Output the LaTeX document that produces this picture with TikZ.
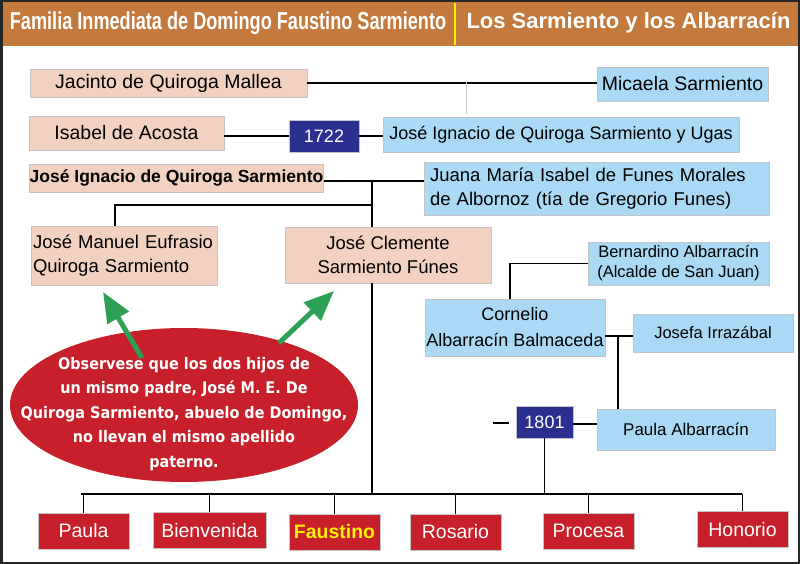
\documentclass[tikz,border=0pt]{standalone}
\usepackage{fontspec}
\setmainfont{Liberation Sans}
\newfontfamily\narrowfont[FakeStretch=0.74]{Liberation Sans}
\newfontfamily\notefont[FakeStretch=0.9]{DejaVu Sans}
\usetikzlibrary{shapes.geometric,arrows.meta}
\definecolor{cabecera}{HTML}{C47A3C}
\definecolor{durazno}{HTML}{F2D1C1}
\definecolor{celeste}{HTML}{A9D9F5}
\definecolor{azulanio}{HTML}{2B2F8F}
\definecolor{rojo}{HTML}{C8202A}
\definecolor{verde}{HTML}{2EA055}
\definecolor{borde}{HTML}{C4C4C4}
\definecolor{amarillo}{HTML}{FFF200}

\begin{document}
\begin{tikzpicture}[x=1pt, y=-1pt, line width=1.6pt,
  caja/.style={draw=borde, line width=0.8pt, inner sep=0pt, text=black},
  sz/.style 2 args={minimum width=#1pt, minimum height=#2pt},
  padre/.style={caja, fill=durazno},
  madre/.style={caja, fill=celeste},
  anio/.style={caja, fill=azulanio, text=white, font=\fontsize{18}{20}\selectfont},
  hijo/.style={caja, fill=rojo, text=white, minimum width=91pt, minimum height=36pt, font=\fontsize{19.5}{22}\selectfont},
  grande/.style={font=\fontsize{19.5}{22}\selectfont},
  medio/.style={font=\fontsize{18.5}{24.5}\selectfont},
  chico/.style={font=\fontsize{16.5}{20}\selectfont},
  flecha/.style={verde, line width=5pt, -{Triangle[width=24pt,length=30pt]}}]
\useasboundingbox (0,0) rectangle (800,564);

% cabecera
\fill[cabecera] (0,0) rectangle (800,46);
\draw[amarillo, line width=1.2pt] (455,3) -- (455,45);
\node[text=white, font=\narrowfont\bfseries\fontsize{24.5}{26}\selectfont] (titulo) at (228,23) {Familia Inmediata de Domingo Faustino Sarmiento};
\node[text=white, font=\bfseries\fontsize{22}{24}\selectfont] (subtitulo) at (628.5,23) {Los Sarmiento y los Albarrac\'in};
\draw[black!85, line width=2.5pt] (1.25,1.25) rectangle (798.75,562.75);

% abuelos y bisabuelos
\node[padre, sz={277}{28}, grande] (jacinto) at (168.5,83) {Jacinto de Quiroga Mallea};
\node[madre, sz={171}{34}, grande] (micaela) at (682.5,84) {Micaela Sarmiento};
\node[padre, sz={195}{34}, grande] (isabel) at (126.5,133) {Isabel de Acosta};
\node[anio, sz={70}{32}] (y1722) at (324,136) {1722};
\node[madre, sz={356}{35}, font=\fontsize{18}{20}\selectfont] (ugas) at (561,134.5) {Jos\'e Ignacio de Quiroga Sarmiento y Ugas};
\node[padre, sz={293}{28}, font=\bfseries\fontsize{17.5}{20}\selectfont] (ignacio) at (176.5,178) {Jos\'e Ignacio de Quiroga Sarmiento};
\node[madre, sz={345}{53}, text width=333pt, align=left, font=\fontsize{18.5}{24}\selectfont] (juana) at (596.5,188.5) {Juana Mar\'ia Isabel de Funes Morales\\de Albornoz (t\'ia de Gregorio Funes)};

% hijos de Jose Ignacio
\node[padre, sz={186}{59}, medio, text width=182pt, align=left] (manuel) at (124,255.5) {Jos\'e Manuel Eufrasio\\Quiroga Sarmiento};
\node[padre, sz={206}{56}, align=center, font=\fontsize{18.5}{24}\selectfont] (clemente) at (388,255) {Jos\'e Clemente\\Sarmiento F\'unes};

% los Albarracin
\node[madre, sz={181}{43}, chico, align=center] (bernardino) at (678.5,263.5) {Bernardino Albarrac\'in\\(Alcalde de San Juan)};
\node[madre, sz={180}{57}, align=center, font=\fontsize{18}{26}\selectfont] (cornelio) at (515,327.5) {Cornelio\\Albarrac\'in Balmaceda};
\node[madre, sz={160}{38}, chico] (josefa) at (713,333) {Josefa Irraz\'abal};
\node[anio, sz={57}{32}] (y1801) at (544.5,422) {1801};
\node[madre, sz={178}{41}, font=\fontsize{17}{20}\selectfont] (paulaA) at (686,429.5) {Paula Albarrac\'in};

% nota
\node[ellipse, fill=rojo, sz={348}{154}, inner sep=0pt] (nota) at (184,405) {};
\node[text=white, align=center, font=\notefont\fontsize{16}{24.5}\selectfont\bfseries] (notatxt) at (184,414) {Observese que los dos hijos de\\un mismo padre, Jos\'e M. E. De\\Quiroga Sarmiento, abuelo de Domingo,\\no llevan el mismo apellido\\paterno.};

% hijos de Jose Clemente y Paula
\node[hijo] (paula) at (83.5,531) {Paula};
\node[hijo, minimum width=113pt] (bienvenida) at (209.5,530.5) {Bienvenida};
\node[hijo, text=amarillo, font=\bfseries\fontsize{19.5}{22}\selectfont] (faustino) at (334.5,532) {Faustino};
\node[hijo] (rosario) at (455.5,532) {Rosario};
\node[hijo] (procesa) at (588.5,531) {Procesa};
\node[hijo] (honorio) at (742.5,529.5) {Honorio};

\coordinate (jm) at (466,82);
\coordinate (tronco) at (372,181);
\coordinate (mtop) at (115,205);
\coordinate (cj) at (618,336);
\coordinate (barW) at (81,494);
\coordinate (barE) at (742,494);
\coordinate (guion1) at (493,423);
\coordinate (guion2) at (509,423);
\coordinate (f1) at (142,358);
\coordinate (f1tip) at (103,292);
\coordinate (f2) at (279,343);
\coordinate (f2tip) at (334,291);

% lineas
\draw (jacinto.east) -- (jacinto.east -| micaela.west);
\draw[black!18, line width=1pt, shorten >=3pt] (jm) -- (jm |- ugas.north);
\draw (isabel.east |- y1722.west) -- (y1722.west);
\draw (y1722.east) -- (ugas.west |- y1722.east);
\draw ([yshift=-3pt]ignacio.east) -- (juana.west |- tronco);
\draw (tronco |- mtop) -- (mtop) -- (mtop |- manuel.north);
\draw (bernardino.west) -| ([xshift=-5pt]cornelio.north);
\draw (cornelio.east |- cj) -- (josefa.west |- cj);
\draw (cj) -- (cj |- paulaA.north);
\draw (guion1) -- (guion2);
\draw (y1801.east |- 0,424) -- (paulaA.west |- 0,424);
\draw (y1801.south) -- (y1801.south |- barW);
\draw (barW) -- (barE);
\foreach \h in {paula,bienvenida,faustino,rosario,procesa,honorio}
  \draw (\h.north) -- (\h.north |- barW);
\draw (tronco) -- (tronco |- clemente.north);
\draw (tronco |- clemente.south) -- (tronco |- barW);

% flechas
\draw[flecha] (f1) -- (f1tip);
\draw[flecha] (f2) -- (f2tip);
\end{tikzpicture}
\end{document}
